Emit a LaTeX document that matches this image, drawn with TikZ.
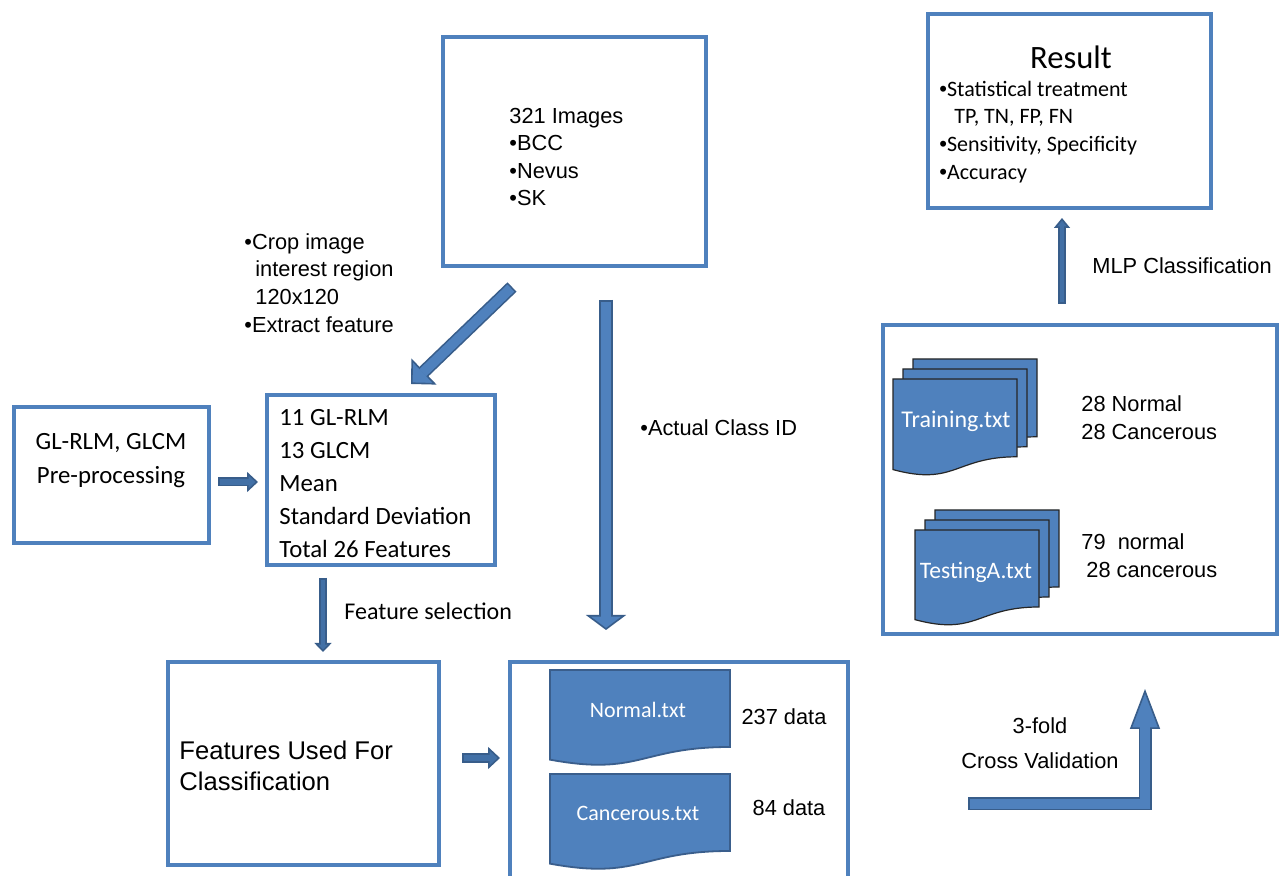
\documentclass[tikz,border=0pt]{standalone}
\usepackage{fontspec}
\setmainfont{Liberation Sans}
\newfontfamily\calibri{Carlito}
\usetikzlibrary{arrows.meta, positioning}

\definecolor{boxblue}{HTML}{4F81BD}
\definecolor{arrowblue}{HTML}{4F81BD}
\definecolor{arrowmid}{HTML}{4270A6}
\definecolor{arrowedge}{HTML}{385D8A}
\definecolor{docblue}{HTML}{4F81BD}
\definecolor{docedge}{HTML}{3A5E8C}

\begin{document}
\begin{tikzpicture}[x=0.5pt, y=-0.5pt,
    box/.style={draw=boxblue, line width=2pt, rectangle, inner sep=0pt},
    arial/.style={font=\fontsize{10.9}{13.8}\selectfont, align=left, inner sep=0pt},
    calib/.style={font=\calibri\fontsize{12.4}{16.5}\selectfont, align=left, inner sep=0pt},
    doclabel/.style={font=\calibri\fontsize{11}{13}\selectfont, text=white, inner sep=0pt},
    docpage/.style={draw=docedge, line width=0.9pt, fill=docblue},
    stackpage/.style={draw=black!85, line width=0.6pt, fill=docblue},
    % shaft width, inner width, head width, head length, inner colour
    blockarrow/.style n args={5}{draw=arrowedge, line width=#1,
        -{Triangle[width=#3, length=#4, line width=0.8pt, fill=#5]},
        postaction={draw=#5, line width=#2, -, shorten <=0.8pt, shorten >=#4-1pt}},
    pics/txtfile/.style 2 args={code={
        \path[pic actions] (0,0) -- (#1,0) -- (#1,0.802*#2)
            .. controls (0.5*#1,0.802*#2) and (0.5*#1,1.107*#2) .. (0,0.934*#2) -- cycle;
    }}
  ]
  \useasboundingbox (0,0) rectangle (1286,876);
  \fill[white] (0,0) rectangle (1286,876);
  \clip (0,0) rectangle (1286,876);

  % boxes
  \node[box, minimum width=131.5pt, minimum height=114.5pt] (img)    at (574.5,151.5) {};
  \node[box, minimum width=141.5pt, minimum height=97pt]    (result) at (1069.5,111) {};
  \node[box, minimum width=97.5pt,  minimum height=68pt]    (prep)   at (111.5,475) {};
  \node[box, minimum width=114pt,   minimum height=85pt]    (feat)   at (381,480) {};
  \node[box, minimum width=135.5pt, minimum height=101.5pt] (used)   at (303.5,763.5) {};
  \node[box, minimum width=169pt,   minimum height=119pt]   (data)   at (679,781) {};
  \node[box, minimum width=197pt,   minimum height=154.5pt] (split)  at (1080,479.5) {};

  % text files
  \pic[docpage] at (550,670) {txtfile={180}{96}};
  \pic[docpage] at (550,774) {txtfile={180}{96}};
  \foreach \dx in {20,10,0} {
    \pic[stackpage] at (893+\dx,379-\dx) {txtfile={124}{97}};
    \pic[stackpage] at (915+\dx,530-\dx) {txtfile={124}{96}};
  }
  \node[doclabel] (normal)   at (638,710) {Normal.txt};
  \node[doclabel] (cancer)   at (638,813) {Cancerous.txt};
  \node[doclabel, font=\calibri\fontsize{12}{14}\selectfont] (training) at (956,421) {Training.txt};
  \node[doclabel, font=\calibri\fontsize{11.8}{14}\selectfont] (testing)  at (976,572) {TestingA.txt};

  % arrow ends
  \coordinate (cropfrom) at (512,287);
  \coordinate (cropto)   at (411,384);
  \coordinate (classfrom) at (606,300);
  \coordinate (classto)   at (606,630);
  \coordinate (prepfrom) at (218,482);
  \coordinate (prepto)   at (258,482);
  \coordinate (selfrom)  at (323,578);
  \coordinate (selto)    at (323,652);
  \coordinate (usedfrom) at (462,758);
  \coordinate (usedto)   at (500,758);
  \coordinate (cvfrom)   at (968,804);
  \coordinate (cvto)     at (1145,689);
  \coordinate (mlpfrom)  at (1062,304);
  \coordinate (mlpto)    at (1062,218);

  \draw[blockarrow={6.5pt}{4.9pt}{18pt}{9pt}{arrowblue}]  (cropfrom) -- (cropto);
  \draw[blockarrow={7pt}{5.4pt}{20pt}{7.5pt}{arrowblue}]  (classfrom) -- (classto);
  \draw[blockarrow={4.5pt}{2.9pt}{10pt}{5.5pt}{arrowmid}] (prepfrom) -- (prepto);
  \draw[blockarrow={4pt}{2.4pt}{8.5pt}{4.5pt}{arrowmid}]  (selfrom) -- (selto);
  \draw[blockarrow={5pt}{3.4pt}{11pt}{6pt}{arrowmid}]    (usedfrom) -- (usedto);
  \draw[blockarrow={6.5pt}{4.9pt}{15pt}{20pt}{arrowblue}] (cvfrom) -| (cvto);
  \draw[blockarrow={4pt}{2.4pt}{8pt}{5pt}{arrowmid}]     (mlpfrom) -- (mlpto);

  % labels
  \node[arial, anchor=west] (imgtxt) at (509,157)
    {321 Images\\•BCC\\•Nevus\\•SK};
  \node[arial, anchor=west] (croptxt) at (244,283)
    {•Crop image\\\hspace*{5.5pt}interest region\\\hspace*{5.5pt}120x120\\•Extract feature};
  \node[arial, anchor=west] (classtxt) at (640,428) {•Actual Class ID};
  \node[calib, align=center, font=\calibri\fontsize{12.4}{17}\selectfont] (preptxt) at (111,461)
    {GL-RLM, GLCM\\Pre-processing};
  \node[calib, anchor=west] (feattxt) at (279,484)
    {11 GL-RLM\\13 GLCM\\Mean\\Standard Deviation\\Total 26 Features};
  \node[calib, anchor=west, font=\calibri\fontsize{12}{14}\selectfont] (seltxt) at (344,611) {Feature selection};
  \node[arial, anchor=west, font=\fontsize{12.8}{15.3}\selectfont] (usedtxt) at (179,766)
    {Features Used For\\Classification};
  \node[arial] (n237) at (784,717) {237 data};
  \node[arial] (c84)  at (789,808) {84 data};
  \node[arial, anchor=west] (traincnt) at (1081,418) {28 Normal\\28 Cancerous};
  \node[arial, anchor=west] (testcnt)  at (1081,556) {79\ \ normal\\\hspace*{2.5pt}28 cancerous};
  \node[arial, align=center, font=\fontsize{10.9}{17.5}\selectfont] (cvtxt) at (1040,743)
    {3-fold\\Cross Validation};
  \node[arial, anchor=west] (mlptxt) at (1092,266) {MLP Classification};
  \node[calib, font=\calibri\fontsize{16.3}{18}\selectfont] (restitle) at (1071,57) {Result};
  \node[calib, anchor=west, font=\calibri\fontsize{11}{13.9}\selectfont] (restxt) at (939,132)
    {{\normalfont•}Statistical treatment\\\hspace*{7.5pt}TP, TN, FP, FN\\
     {\normalfont•}Sensitivity, Specificity\\{\normalfont•}Accuracy};
\end{tikzpicture}
\end{document}
